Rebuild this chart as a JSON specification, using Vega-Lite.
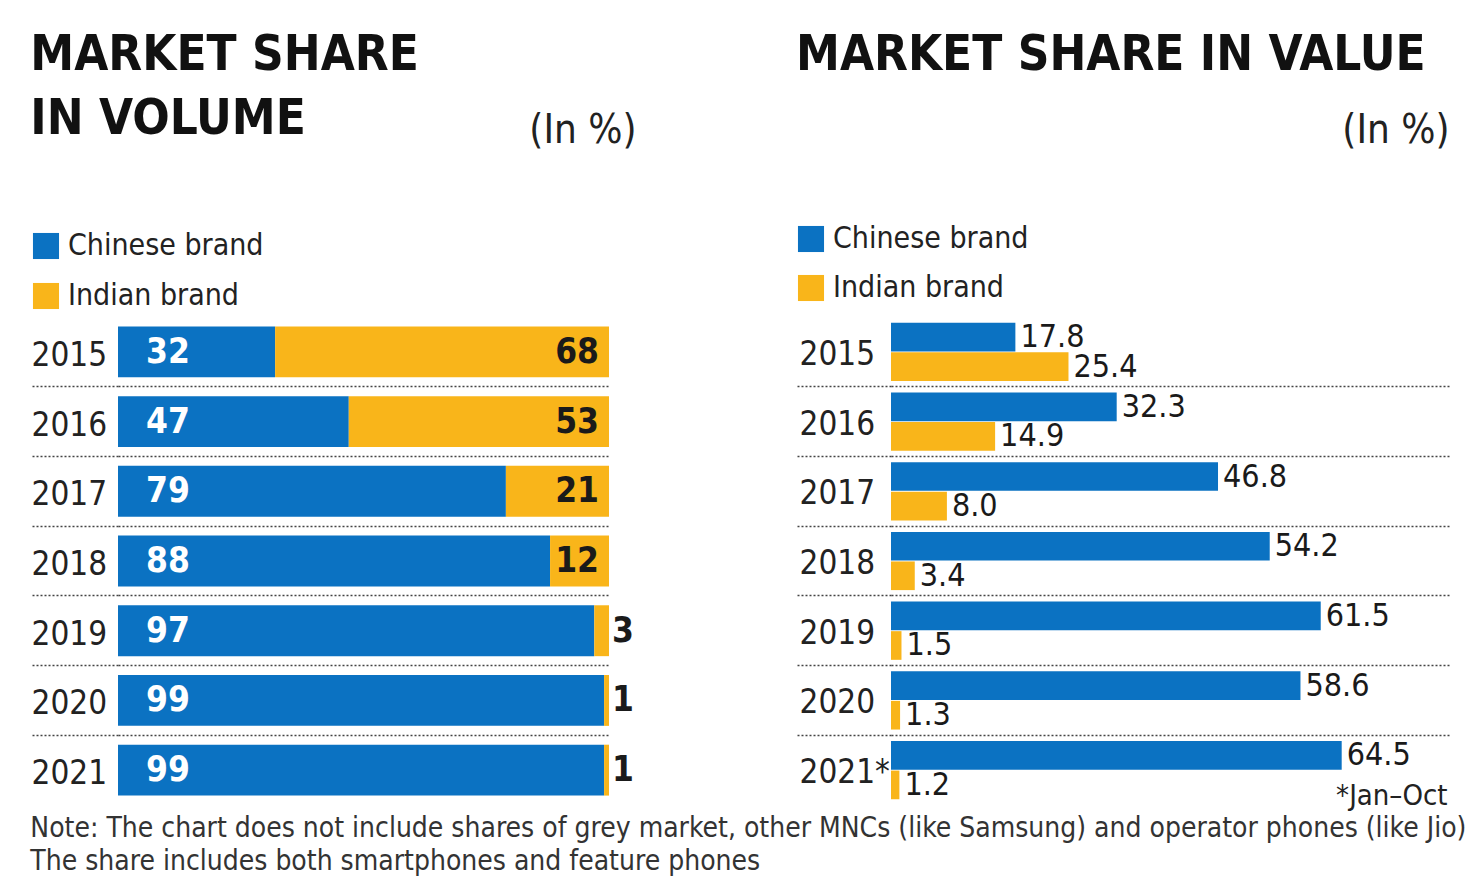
{
  "$schema": "https://vega.github.io/schema/vega-lite/v6.json",
  "background": "white",
  "padding": {"left": 30, "top": 31, "right": 5, "bottom": 5},
  "datasets": {
    "volume": [
      {"year": "2015", "brand": "Chinese brand", "value": 32},
      {"year": "2015", "brand": "Indian brand", "value": 68},
      {"year": "2016", "brand": "Chinese brand", "value": 47},
      {"year": "2016", "brand": "Indian brand", "value": 53},
      {"year": "2017", "brand": "Chinese brand", "value": 79},
      {"year": "2017", "brand": "Indian brand", "value": 21},
      {"year": "2018", "brand": "Chinese brand", "value": 88},
      {"year": "2018", "brand": "Indian brand", "value": 12},
      {"year": "2019", "brand": "Chinese brand", "value": 97},
      {"year": "2019", "brand": "Indian brand", "value": 3},
      {"year": "2020", "brand": "Chinese brand", "value": 99},
      {"year": "2020", "brand": "Indian brand", "value": 1},
      {"year": "2021", "brand": "Chinese brand", "value": 99},
      {"year": "2021", "brand": "Indian brand", "value": 1}
    ],
    "valueshare": [
      {"year": "2015", "brand": "Chinese brand", "value": 17.8},
      {"year": "2015", "brand": "Indian brand", "value": 25.4},
      {"year": "2016", "brand": "Chinese brand", "value": 32.3},
      {"year": "2016", "brand": "Indian brand", "value": 14.9},
      {"year": "2017", "brand": "Chinese brand", "value": 46.8},
      {"year": "2017", "brand": "Indian brand", "value": 8.0},
      {"year": "2018", "brand": "Chinese brand", "value": 54.2},
      {"year": "2018", "brand": "Indian brand", "value": 3.4},
      {"year": "2019", "brand": "Chinese brand", "value": 61.5},
      {"year": "2019", "brand": "Indian brand", "value": 1.5},
      {"year": "2020", "brand": "Chinese brand", "value": 58.6},
      {"year": "2020", "brand": "Indian brand", "value": 1.3},
      {"year": "2021*", "brand": "Chinese brand", "value": 64.5},
      {"year": "2021*", "brand": "Indian brand", "value": 1.2}
    ]
  },
  "title": {
    "text": [
      "Note: The chart does not include shares of grey market, other MNCs (like Samsung) and operator phones (like Jio)",
      "The share includes both smartphones and feature phones"
    ],
    "orient": "bottom",
    "anchor": "start",
    "fontSize": 28,
    "fontWeight": "normal",
    "color": "#333333",
    "lineHeight": 33,
    "offset": 5
  },
  "spacing": 160,
  "resolve": {"legend": {"color": "independent"}},
  "hconcat": [
    {
      "title": {
        "text": ["MARKET SHARE", "IN VOLUME"],
        "anchor": "start",
        "fontSize": 49,
        "lineHeight": 64,
        "fontWeight": "bold",
        "color": "#111111",
        "offset": -34
      },
      "width": 491,
      "height": 488,
      "data": {"name": "volume"},
      "resolve": {"axis": {"x": "independent"}},
      "encoding": {
        "y": {
          "field": "year",
          "type": "nominal",
          "sort": "ascending",
          "scale": {"paddingInner": 0.27, "paddingOuter": 0.135},
          "axis": {
            "title": null,
            "domain": false,
            "ticks": true,
            "tickSize": 87,
            "tickColor": "#444444",
            "tickDash": [2, 2],
            "tickWidth": 1.3,
            "bandPosition": 1.185,
            "tickOpacity": {"condition": {"test": "datum.value === '2021'", "value": 0}, "value": 1},
            "grid": true,
            "gridColor": "#444444",
            "gridDash": [2, 2],
            "gridWidth": 1.3,
            "gridOpacity": {"condition": {"test": "datum.value === '2021'", "value": 0}, "value": 1},
            "labelAlign": "left",
            "labelPadding": 0,
            "labelOffset": 4,
            "labelFontSize": 33,
            "labelColor": "#222222",
            "labelBaseline": "middle"
          }
        }
      },
      "layer": [
        {
          "mark": {"type": "bar"},
          "encoding": {
            "x": {
              "field": "value",
              "type": "quantitative",
              "stack": "zero",
              "scale": {"domain": [0, 100]},
              "axis": {
                "orient": "top",
                "title": "(In %)",
                "labels": false,
                "ticks": false,
                "domain": false,
                "grid": false,
                "titleX": 518,
                "titleY": -175,
                "titleAlign": "right",
                "titleBaseline": "alphabetic",
                "titleFontSize": 40,
                "titleFontWeight": "normal",
                "titleColor": "#222222"
              }
            },
            "color": {
              "field": "brand",
              "type": "nominal",
              "scale": {"domain": ["Chinese brand", "Indian brand"], "range": ["#0b72c2", "#f9b51a"]},
              "legend": {
                "orient": "none",
                "legendX": -87,
                "legendY": -86,
                "title": null,
                "direction": "vertical",
                "symbolType": "square",
                "symbolSize": 680,
                "symbolStrokeWidth": 0,
                "labelFontSize": 30,
                "labelColor": "#222222",
                "labelOffset": 7,
                "labelLimit": 400,
                "rowPadding": 20,
                "padding": 0
              }
            }
          }
        },
        {
          "transform": [{"filter": "datum.brand === 'Chinese brand'"}],
          "mark": {"type": "text", "align": "left", "baseline": "middle", "dx": 28, "fontSize": 35, "fontWeight": "bold", "color": "white"},
          "encoding": {
            "x": {"datum": 0, "type": "quantitative", "axis": null},
            "text": {"field": "value", "type": "quantitative"}
          }
        },
        {
          "transform": [{"filter": "datum.brand === 'Indian brand' && datum.value >= 10"}],
          "mark": {"type": "text", "align": "right", "baseline": "middle", "dx": -10, "fontSize": 35, "fontWeight": "bold", "color": "#1a1a1a"},
          "encoding": {
            "x": {"datum": 100, "type": "quantitative", "axis": null},
            "text": {"field": "value", "type": "quantitative"}
          }
        },
        {
          "transform": [{"filter": "datum.brand === 'Indian brand' && datum.value < 10"}],
          "mark": {"type": "text", "align": "left", "baseline": "middle", "dx": 3, "fontSize": 35, "fontWeight": "bold", "color": "#1a1a1a"},
          "encoding": {
            "x": {"datum": 100, "type": "quantitative", "axis": null},
            "text": {"field": "value", "type": "quantitative"}
          }
        }
      ]
    },
    {
      "title": {
        "text": ["MARKET SHARE IN VALUE", " "],
        "anchor": "start",
        "fontSize": 49,
        "lineHeight": 64,
        "fontWeight": "bold",
        "color": "#111111",
        "offset": -34
      },
      "width": 559,
      "height": 488,
      "data": {"name": "valueshare"},
      "resolve": {"axis": {"x": "independent"}},
      "encoding": {
        "y": {
          "field": "year",
          "type": "nominal",
          "sort": "ascending",
          "scale": {"paddingInner": 0.165, "paddingOuter": 0.0825},
          "axis": {
            "title": null,
            "domain": false,
            "ticks": true,
            "tickSize": 94,
            "tickColor": "#444444",
            "tickDash": [2, 2],
            "tickWidth": 1.3,
            "bandPosition": 1.099,
            "tickOpacity": {"condition": {"test": "datum.value === '2021*'", "value": 0}, "value": 1},
            "grid": true,
            "gridColor": "#444444",
            "gridDash": [2, 2],
            "gridWidth": 1.3,
            "gridOpacity": {"condition": {"test": "datum.value === '2021*'", "value": 0}, "value": 1},
            "labelAlign": "left",
            "labelPadding": -2,
            "labelOffset": 3,
            "labelFontSize": 33,
            "labelColor": "#222222",
            "labelBaseline": "middle"
          }
        },
        "yOffset": {
          "field": "brand",
          "type": "nominal",
          "scale": {"domain": ["Chinese brand", "Indian brand"], "paddingInner": 0.03, "paddingOuter": 0}
        }
      },
      "layer": [
        {
          "mark": {"type": "bar"},
          "encoding": {
            "x": {
              "field": "value",
              "type": "quantitative",
              "scale": {"domain": [0, 73.5]},
              "axis": {
                "orient": "top",
                "title": "(In %)",
                "labels": false,
                "ticks": false,
                "domain": false,
                "grid": false,
                "titleX": 558,
                "titleY": -175,
                "titleAlign": "right",
                "titleBaseline": "alphabetic",
                "titleFontSize": 40,
                "titleFontWeight": "normal",
                "titleColor": "#222222"
              }
            },
            "color": {
              "field": "brand",
              "type": "nominal",
              "scale": {"domain": ["Chinese brand", "Indian brand"], "range": ["#0b72c2", "#f9b51a"]},
              "legend": {
                "orient": "none",
                "legendX": -95,
                "legendY": -93,
                "title": null,
                "direction": "vertical",
                "symbolType": "square",
                "symbolSize": 680,
                "symbolStrokeWidth": 0,
                "labelFontSize": 30,
                "labelColor": "#222222",
                "labelOffset": 7,
                "labelLimit": 400,
                "rowPadding": 19,
                "padding": 0
              }
            }
          }
        },
        {
          "mark": {"type": "text", "align": "left", "baseline": "middle", "dx": 5, "fontSize": 32, "fontWeight": "normal", "color": "#1a1a1a"},
          "encoding": {
            "x": {
              "field": "value",
              "type": "quantitative",
              "axis": {
                "orient": "bottom",
                "title": "*Jan–Oct",
                "labels": false,
                "ticks": false,
                "domain": false,
                "grid": false,
                "titleX": 556,
                "titleY": -1,
                "titleAlign": "right",
                "titleBaseline": "alphabetic",
                "titleFontSize": 29,
                "titleFontWeight": "normal",
                "titleColor": "#222222"
              }
            },
            "text": {"field": "value", "type": "quantitative", "format": ".1f"}
          }
        }
      ]
    }
  ],
  "config": {
    "font": "DejaVu Sans Condensed",
    "view": {"stroke": null}
  }
}
